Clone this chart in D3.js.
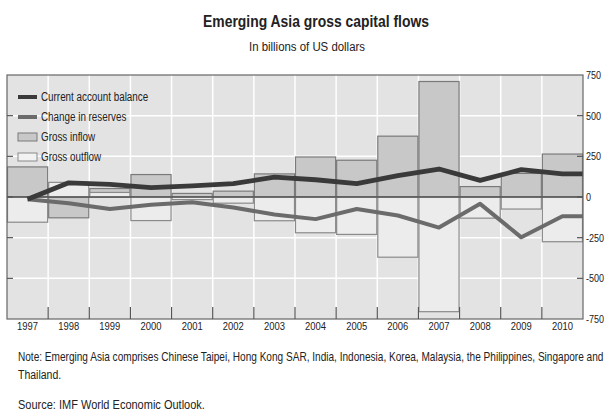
<!DOCTYPE html>
<html>
<head>
<meta charset="utf-8">
<script src="https://cdn.jsdelivr.net/npm/d3@7"></script>
<style>
  html, body { margin: 0; padding: 0; background: #ffffff; }
  svg { display: block; }
  text { font-family: "Liberation Sans", Arial, sans-serif; fill: #222; }
</style>
</head>
<body>
<svg id="chart" width="610" height="417"></svg>
<script>
// ---- data ----
const years = ["1997","1998","1999","2000","2001","2002","2003","2004","2005","2006","2007","2008","2009","2010"];
const grossInflow  = [185, -128, 52, 138, 22, 36, 142, 246, 226, 374, 710, 64, 145, 264];
const grossOutflow = [-155, 90, 28, -145, -16, -38, -146, -220, -230, -370, -705, -130, -74, -275];
const currentAccount   = [-14, 87, 78, 58, 68, 82, 122, 106, 82, 132, 172, 102, 168, 142];
const changeInReserves = [-14, -38, -74, -48, -32, -64, -108, -136, -74, -114, -188, -42, -248, -118];
const yTicks = [750, 500, 250, 0, -250, -500, -750];
const legendLabels = ["Current account balance", "Change in reserves", "Gross inflow", "Gross outflow"];
const title = "Emerging Asia gross capital flows";
const subtitle = "In billions of US dollars";
const noteLines = ["Note: Emerging Asia comprises Chinese Taipei, Hong Kong SAR, India, Indonesia, Korea, Malaysia, the Philippines, Singapore and", "Thailand."];
const source = "Source: IMF World Economic Outlook.";

(function () {
const svg = d3.select("#chart");
const pL = 7, pR = 583, pT = 75, pB = 319;
const NARROW = 0.82;

// squeeze text horizontally to mimic a narrow typeface
function condense(sel, factor) {
  sel.each(function () {
    const w = this.getComputedTextLength();
    d3.select(this).attr("textLength", w * factor).attr("lengthAdjust", "spacingAndGlyphs");
  });
}
function fitTo(sel, width) {
  sel.attr("textLength", width).attr("lengthAdjust", "spacingAndGlyphs");
}
// left-anchored text squeezed by a transform so its box is the true drawn box
function squeezedText(px, py, size, str, width) {
  const gg = svg.append("g");
  const t = gg.append("text").attr("x", 0).attr("y", 0).style("font-size", size).text(str);
  const w = t.node().getComputedTextLength();
  gg.attr("transform", `translate(${px},${py}) scale(${width / w},1)`);
  return t;
}

const x = d3.scaleBand().domain(years).range([pL, pR]).padding(0);
const y = d3.scaleLinear().domain([-750, 750]).range([pB, pT]);

// titles
svg.append("text").attr("x", 316).attr("y", 27).attr("text-anchor", "middle")
  .style("font-size", "16.5px").style("font-weight", "bold").text(title).call(fitTo, 226);
svg.append("text").attr("x", 307).attr("y", 51).attr("text-anchor", "middle")
  .style("font-size", "12.5px").text(subtitle).call(fitTo, 116);

// plot background
svg.append("rect").attr("x", pL).attr("y", pT).attr("width", pR - pL).attr("height", pB - pT)
  .attr("fill", "#e3e3e3");

// gridlines
const g = svg.append("g");
g.selectAll("line.hg").data(yTicks.filter(d => Math.abs(d) !== 750 && d !== 0)).enter().append("line")
  .attr("x1", pL).attr("x2", pR).attr("y1", d => y(d)).attr("y2", d => y(d))
  .attr("stroke", "#ffffff").attr("stroke-width", 1.5);
g.selectAll("line.vg").data(years.slice(1)).enter().append("line")
  .attr("x1", d => x(d)).attr("x2", d => x(d)).attr("y1", pT).attr("y2", pB)
  .attr("stroke", "#ffffff").attr("stroke-width", 1.5);

// bars
function bars(values, fill, stroke) {
  svg.append("g").selectAll("rect").data(values).enter().append("rect")
    .attr("x", (d, i) => x(years[i]) + 0.5)
    .attr("width", x.bandwidth() - 1)
    .attr("y", d => y(Math.max(0, d)))
    .attr("height", d => Math.abs(y(d) - y(0)))
    .attr("fill", fill).attr("stroke", stroke).attr("stroke-width", 1.2);
}
bars(grossInflow, "#c8c8c8", "#7a7a7a");
bars(grossOutflow, "#ececec", "#8a8a8a");

// zero line
svg.append("line").attr("x1", pL).attr("x2", pR).attr("y1", y(0)).attr("y2", y(0))
  .attr("stroke", "#555").attr("stroke-width", 1.5);

// lines
function seriesLine(values, color, width) {
  const pts = values.map((v, i) => [x(years[i]) + x.bandwidth() / 2, y(v)]);
  pts.push([x.range()[1], y(values[values.length - 1])]);
  svg.append("path").attr("d", d3.line().curve(d3.curveLinear)(pts))
    .attr("fill", "none").attr("stroke", color).attr("stroke-width", width)
    .attr("stroke-linejoin", "round");
}
seriesLine(changeInReserves, "#6b6b6b", 4);
seriesLine(currentAccount, "#3a3a3a", 4.8);

// border
svg.append("rect").attr("x", pL).attr("y", pT).attr("width", pR - pL).attr("height", pB - pT)
  .attr("fill", "none").attr("stroke", "#666").attr("stroke-width", 1.2);

// y tick marks (inward, both sides)
const innerTicks = yTicks.filter(d => Math.abs(d) !== 750);
svg.append("g").selectAll("line").data(innerTicks).enter().append("line")
  .attr("x1", pL).attr("x2", pL + 6).attr("y1", d => y(d)).attr("y2", d => y(d))
  .attr("stroke", "#555").attr("stroke-width", 1.2);
svg.append("g").selectAll("line").data(innerTicks).enter().append("line")
  .attr("x1", pR - 6).attr("x2", pR).attr("y1", d => y(d)).attr("y2", d => y(d))
  .attr("stroke", "#555").attr("stroke-width", 1.2);

// right axis labels
const yAxis = d3.axisRight(y).tickValues(yTicks).tickSize(0).tickPadding(3)
  .tickFormat(d => d < 0 ? "-" + Math.abs(d) : d);
const ya = svg.append("g").attr("transform", `translate(${pR},0)`).call(yAxis);
ya.select(".domain").remove();
ya.attr("font-family", null);
ya.selectAll("text").style("font-size", "11px").attr("fill", "#222").call(condense, NARROW);

// x axis ticks at band boundaries, inward
svg.append("g").selectAll("line").data(years.slice(1)).enter().append("line")
  .attr("x1", d => x(d)).attr("x2", d => x(d)).attr("y1", pB - 12).attr("y2", pB)
  .attr("stroke", "#555").attr("stroke-width", 1.2);
const xAxis = d3.axisBottom(x).tickSize(0).tickPadding(3);
const xa = svg.append("g").attr("transform", `translate(0,${pB})`).call(xAxis);
xa.select(".domain").remove();
xa.attr("font-family", null);
xa.selectAll("text").style("font-size", "11.5px").attr("fill", "#222").call(condense, NARROW);

// legend
const lg = svg.append("g");
const ly = [97, 117, 137, 157];
lg.append("line").attr("x1", 18).attr("x2", 37).attr("y1", ly[0]).attr("y2", ly[0]).attr("stroke", "#3a3a3a").attr("stroke-width", 4);
lg.append("line").attr("x1", 18).attr("x2", 37).attr("y1", ly[1]).attr("y2", ly[1]).attr("stroke", "#6b6b6b").attr("stroke-width", 4);
lg.append("rect").attr("x", 18).attr("y", ly[2] - 4).attr("width", 19).attr("height", 8).attr("fill", "#c8c8c8").attr("stroke", "#7a7a7a");
lg.append("rect").attr("x", 18).attr("y", ly[3] - 4).attr("width", 19).attr("height", 8).attr("fill", "#f2f2f2").attr("stroke", "#8a8a8a");
lg.selectAll("text").data(legendLabels).enter().append("text")
  .attr("x", 41).attr("y", (d, i) => ly[i]).attr("dy", "0.35em")
  .style("font-size", "12px").text(d => d).call(condense, NARROW);

// notes
squeezedText(18, 361, "12.5px", noteLines[0], 586);
svg.append("text").attr("x", 18).attr("y", 379).style("font-size", "12.5px").text(noteLines[1])
  .call(condense, 0.84);
svg.append("text").attr("x", 18).attr("y", 409).style("font-size", "12.5px").text(source)
  .call(condense, 0.88);
})();
</script>
</body>
</html>
